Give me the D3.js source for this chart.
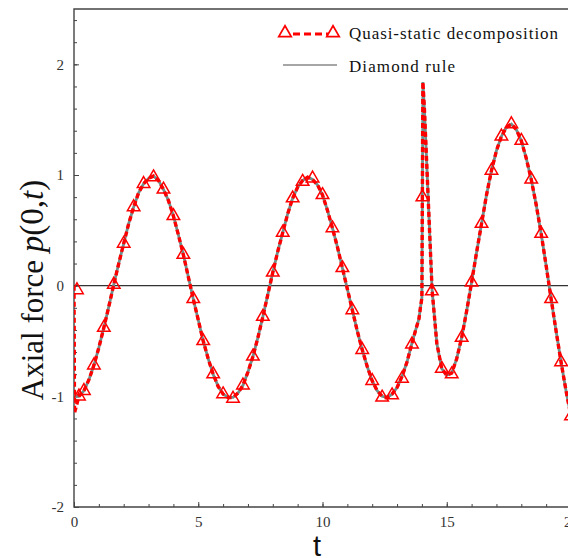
<!DOCTYPE html>
<html>
<head>
<meta charset="utf-8">
<script src="https://cdn.jsdelivr.net/npm/d3@7"></script>
<style>
  html, body { margin: 0; padding: 0; background: #fff; }
  svg { display: block; }
</style>
</head>
<body>
<div id="chart"></div>
<script>
// time grid shared by both series
const timeGrid = [0, 0.02, 0.2, 0.4, 0.6, 0.8, 1.0, 1.2, 1.4, 1.6, 1.8, 2.0, 2.2, 2.4, 2.6, 2.8, 3.0, 3.2, 3.4, 3.6, 3.8,
  4.0, 4.2, 4.4, 4.6, 4.8, 5.0, 5.2, 5.4, 5.6, 5.8, 6.0, 6.2, 6.4, 6.6, 6.8, 7.0, 7.2, 7.4, 7.6, 7.8,
  8.0, 8.2, 8.4, 8.6, 8.8, 9.0, 9.2, 9.4, 9.6, 9.8, 10.0, 10.2, 10.4, 10.6, 10.8, 11.0, 11.2, 11.4, 11.6, 11.8,
  12.0, 12.2, 12.4, 12.6, 12.8, 13.0, 13.2, 13.4, 13.6, 13.75, 13.88, 13.94, 14.0, 14.04, 14.1, 14.41, 14.6, 14.8,
  15.0, 15.2, 15.4, 15.6, 15.8, 16.0, 16.2, 16.4, 16.6, 16.8, 17.0, 17.2, 17.4, 17.6, 17.8,
  18.0, 18.2, 18.4, 18.6, 18.8, 19.0, 19.2, 19.4, 19.6, 19.8, 20.0];

const quasiValues = [0, -1.15, -1.0, -0.95, -0.85, -0.72, -0.56, -0.38, -0.19, 0.01, 0.2, 0.38, 0.56, 0.71, 0.84, 0.92, 0.97, 0.99, 0.95, 0.87, 0.77,
  0.63, 0.46, 0.28, 0.08, -0.12, -0.31, -0.5, -0.66, -0.8, -0.91, -0.98, -1.01, -1.01, -0.97, -0.9, -0.78, -0.64, -0.47, -0.28, -0.08,
  0.12, 0.31, 0.48, 0.65, 0.79, 0.89, 0.95, 0.98, 0.96, 0.91, 0.82, 0.68, 0.52, 0.35, 0.16, -0.03, -0.22, -0.41, -0.58, -0.73,
  -0.86, -0.95, -1.0, -1.01, -0.98, -0.92, -0.82, -0.69, -0.52, -0.4, -0.3, -0.2, -0.11, 1.84, 1.6, -0.04, -0.52, -0.75,
  -0.81, -0.79, -0.66, -0.47, -0.23, 0.03, 0.3, 0.56, 0.82, 1.04, 1.22, 1.35, 1.43, 1.46, 1.41,
  1.31, 1.15, 0.96, 0.73, 0.47, 0.18, -0.12, -0.41, -0.69, -0.95, -1.18];

const diamondValues = [-1.0, -1.0, -1.0, -0.95, -0.85, -0.72, -0.56, -0.38, -0.19, 0.01, 0.2, 0.38, 0.56, 0.71, 0.84, 0.92, 0.97, 0.99, 0.95, 0.87, 0.77,
  0.63, 0.46, 0.28, 0.08, -0.12, -0.31, -0.5, -0.66, -0.8, -0.91, -0.98, -1.01, -1.01, -0.97, -0.9, -0.78, -0.64, -0.47, -0.28, -0.08,
  0.12, 0.31, 0.48, 0.65, 0.79, 0.89, 0.95, 0.98, 0.96, 0.91, 0.82, 0.68, 0.52, 0.35, 0.16, -0.03, -0.22, -0.41, -0.58, -0.73,
  -0.86, -0.95, -1.0, -1.01, -0.98, -0.92, -0.82, -0.69, -0.52, -0.4, -0.3, -0.2, -0.11, 1.84, 1.6, -0.04, -0.52, -0.75,
  -0.81, -0.79, -0.66, -0.47, -0.23, 0.03, 0.3, 0.56, 0.82, 1.04, 1.22, 1.35, 1.43, 1.46, 1.41,
  1.31, 1.15, 0.96, 0.73, 0.47, 0.18, -0.12, -0.41, -0.69, -0.95, -1.18];

// triangle markers of the quasi-static series
const markerTimes = [0.12, 0.2, 0.4, 0.8, 1.2, 1.6, 2.0, 2.4, 2.8, 3.2, 3.6, 4.0, 4.4, 4.8, 5.2, 5.6, 6.0, 6.4, 6.8,
  7.2, 7.6, 8.0, 8.4, 8.8, 9.2, 9.6, 10.0, 10.4, 10.8, 11.2, 11.6, 12.0, 12.4, 12.8, 13.2, 13.6, 14.02, 14.4,
  14.8, 15.2, 15.6, 16.0, 16.4, 16.8, 17.2, 17.6, 18.0, 18.4, 18.8, 19.2, 19.6, 20.0];
const markerValues = [-0.04, -1.0, -0.95, -0.72, -0.38, 0.01, 0.38, 0.71, 0.92, 0.98, 0.87, 0.63, 0.28, -0.12, -0.5, -0.8, -0.98, -1.02, -0.9,
  -0.64, -0.28, 0.12, 0.48, 0.79, 0.94, 0.97, 0.82, 0.52, 0.16, -0.22, -0.58, -0.86, -1.01, -0.99, -0.84, -0.53, 0.8, -0.05,
  -0.75, -0.8, -0.47, 0.03, 0.56, 1.04, 1.35, 1.46, 1.31, 0.96, 0.47, -0.12, -0.69, -1.18];

const xMajor = [0, 5, 10, 15, 20];
const yMajor = [-2, -1, 0, 1, 2];
const xMinor = d3.range(0, 21, 1);
const yMinor = d3.range(-2, 2.51, 0.2);

const legendLabels = ["Quasi-static decomposition", "Diamond rule"];

const WIDTH = 568, HEIGHT = 558;
const serif = "'Liberation Serif', 'Times New Roman', serif";

const x = d3.scaleLinear().domain([0, 20]).range([74, 571]);
const y = d3.scaleLinear().domain([-2, 2.5]).range([507, 9]);

const svg = d3.select("#chart").append("svg")
  .attr("width", WIDTH)
  .attr("height", HEIGHT);

svg.append("defs").append("clipPath").attr("id", "plot-clip")
  .append("rect")
  .attr("x", x(0)).attr("y", y(2.5))
  .attr("width", x(20) - x(0)).attr("height", y(-2) - y(2.5));

// frame
svg.append("path")
  .attr("d", `M${x(20)},${y(2.5)}H${x(0)}V${y(-2)}H${x(20)}`)
  .attr("fill", "none")
  .attr("stroke", "#444")
  .attr("stroke-width", 1.4);

// minor ticks (inward)
svg.append("g").attr("transform", `translate(${x(0)},0)`)
  .call(d3.axisLeft(y).tickValues(yMinor).tickSize(-3).tickFormat(""))
  .call(g => g.select(".domain").remove())
  .call(g => g.selectAll("line").attr("stroke", "#444"));
svg.append("g").attr("transform", `translate(0,${y(-2)})`)
  .call(d3.axisBottom(x).tickValues(xMinor).tickSize(-3).tickFormat(""))
  .call(g => g.select(".domain").remove())
  .call(g => g.selectAll("line").attr("stroke", "#444"));

// major ticks + labels
svg.append("g").attr("transform", `translate(${x(0)},0)`)
  .call(d3.axisLeft(y).tickValues(yMajor).tickSize(-5).tickPadding(10).tickFormat(d => String(d)))
  .call(g => g.select(".domain").remove())
  .call(g => g.selectAll("line").attr("stroke", "#444"))
  .call(g => g.selectAll("text").attr("font-family", serif).attr("font-size", 15).attr("fill", "#333"));
svg.append("g").attr("transform", `translate(0,${y(-2)})`)
  .call(d3.axisBottom(x).tickValues(xMajor).tickSize(-5).tickPadding(9).tickFormat(d => String(d)))
  .call(g => g.select(".domain").remove())
  .call(g => g.selectAll("line").attr("stroke", "#444"))
  .call(g => g.selectAll("text").attr("font-family", serif).attr("font-size", 15).attr("fill", "#333"));

// zero line
svg.append("line")
  .attr("x1", x(0)).attr("x2", x(20))
  .attr("y1", y(0)).attr("y2", y(0))
  .attr("stroke", "#333")
  .attr("stroke-width", 1.3);

const plot = svg.append("g").attr("clip-path", "url(#plot-clip)");

const line = d3.line().x(d => x(d[0])).y(d => y(d[1]));

plot.append("path")
  .datum(timeGrid.map((t, i) => [t, diamondValues[i]]))
  .attr("d", line)
  .attr("fill", "none")
  .attr("stroke", "#6f8f8c")
  .attr("stroke-width", 2.8);

plot.append("path")
  .datum(timeGrid.map((t, i) => [t, quasiValues[i]]))
  .attr("d", line)
  .attr("fill", "none")
  .attr("stroke", "#ff0000")
  .attr("stroke-width", 3.4)
  .attr("stroke-dasharray", "5,3");

const tri = d3.symbol(d3.symbolTriangle, 68);

plot.selectAll(".marker")
  .data(markerTimes.map((t, i) => [t, markerValues[i]]))
  .join("path")
  .attr("class", "marker")
  .attr("d", tri)
  .attr("transform", d => `translate(${x(d[0])},${y(d[1])})`)
  .attr("fill", "none")
  .attr("stroke", "#ff0000")
  .attr("stroke-width", 1.5);

// legend
const legend = svg.append("g");
legend.append("line")
  .attr("x1", 282).attr("x2", 337).attr("y1", 34).attr("y2", 34)
  .attr("stroke", "#ff0000").attr("stroke-width", 3.2).attr("stroke-dasharray", "7,4");
[285, 333].forEach(px => {
  legend.append("path")
    .attr("d", tri)
    .attr("transform", `translate(${px},33)`)
    .attr("fill", "#fff")
    .attr("stroke", "#ff0000")
    .attr("stroke-width", 1.7);
});
legend.append("line")
  .attr("x1", 283).attr("x2", 337).attr("y1", 65).attr("y2", 65)
  .attr("stroke", "#888").attr("stroke-width", 1.5);
legend.selectAll("text.leg")
  .data(legendLabels)
  .join("text")
  .attr("class", "leg")
  .attr("x", 349)
  .attr("y", (d, i) => 39 + i * 33)
  .attr("font-family", serif)
  .attr("font-size", 17)
  .attr("fill", "#111")
  .attr("textLength", (d, i) => i === 0 ? 209 : 106)
  .attr("lengthAdjust", "spacing")
  .text(d => d);

// axis titles
const ylab = svg.append("text")
  .attr("transform", "translate(43,290) rotate(-90)")
  .attr("text-anchor", "middle")
  .attr("font-family", serif)
  .attr("font-size", 31)
  .attr("fill", "#111");
ylab.append("tspan").text("Axial force ");
ylab.append("tspan").attr("font-style", "italic").attr("font-size", 33).text("p");
ylab.append("tspan").attr("font-size", 33).text("(0,");
ylab.append("tspan").attr("font-style", "italic").attr("font-size", 33).text("t");
ylab.append("tspan").attr("font-size", 33).text(")");

svg.append("text")
  .attr("x", 317).attr("y", 556)
  .attr("text-anchor", "middle")
  .attr("font-family", "'Liberation Sans', Arial, sans-serif")
  .attr("font-size", 29)
  .attr("fill", "#111")
  .text("t");
</script>
</body>
</html>
